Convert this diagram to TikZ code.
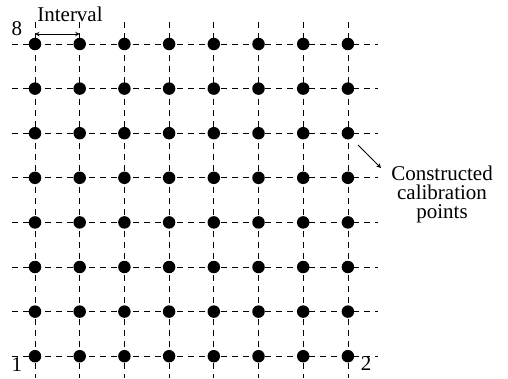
\documentclass[tikz,border=0pt]{standalone}
\usepackage{fontspec}
\setmainfont{Liberation Serif}
\begin{document}
\begin{tikzpicture}[x=1pt,y=-1pt,
  gridline/.style={line width=0.8pt,dash pattern=on 6pt off 5pt},
  dot/.style={circle,fill=black,inner sep=0pt,minimum size=12.5pt},
  lbl/.style={font=\fontsize{21}{19}\selectfont,inner sep=0pt}]
\useasboundingbox (0,0) rectangle (508,378);
\foreach \i in {0,...,7}{
  \draw[gridline] ({35+\i*44.7},22) -- ({35+\i*44.7},378);
  \draw[gridline] (12,{44+\i*44.6}) -- (378,{44+\i*44.6});
}
\foreach \i in {0,...,7}{
  \foreach \j in {0,...,7}{
    \node[dot] (p\i\j) at ({35+\i*44.7},{44+\j*44.6}) {};
  }
}
\coordinate (a1) at (35,34);
\coordinate (a2) at (79.7,34);
\draw[line width=1pt,<->,>=stealth] (a1) -- (a2);
\node[lbl] (iv) at (70,14) {Interval};
\node[lbl] (n8) at (17,29) {8};
\node[lbl] (n1) at (17,365) {1};
\node[lbl] (n2) at (366,364) {2};
\node[lbl,align=center] (ct) at (442,194) {Constructed\\calibration\\points};
\coordinate (c1) at (358,145);
\coordinate (c2) at (381,168);
\draw[line width=1pt,->,>=stealth] (c1) -- (c2);
\end{tikzpicture}
\end{document}
